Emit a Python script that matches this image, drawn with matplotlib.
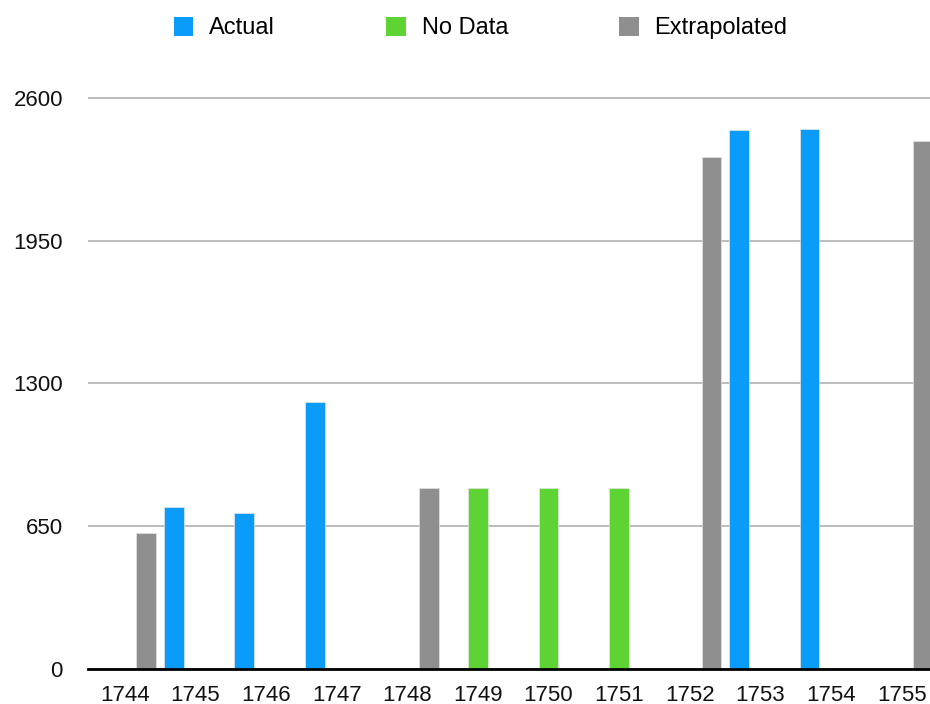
"""
Yearly totals 1744-1755: actual, missing and extrapolated values
"""
import numpy as np
import matplotlib.pyplot as plt
from matplotlib.patches import Patch

plt.rcParams['font.family'] = ['Liberation Sans', 'DejaVu Sans']

years = ['1744', '1745', '1746', '1747', '1748', '1749',
         '1750', '1751', '1752', '1753', '1754', '1755']
nan = np.nan
actual = [nan, 740, 710, 1215, nan, nan, nan, nan, nan, 2455, 2458, nan]
no_data = [nan, nan, nan, nan, nan, 825, 825, 825, nan, nan, nan, nan]
extrapolated = [620, nan, nan, nan, 825, nan, nan, nan, 2330, nan, nan, 2402]
y_ticks = [0, 650, 1300, 1950, 2600]

series = [('Actual', actual, '#0A9CF8'),
          ('No Data', no_data, '#5DD334'),
          ('Extrapolated', extrapolated, '#8F8F8F')]

fig = plt.figure(figsize=(9.3, 7.04), dpi=100)
ax = fig.add_axes([0.0946, 0.0493, 0.9054, 0.8432])

x = np.arange(len(years))
width = 0.28
offset = 0.306
handles = []
for i, (name, vals, col) in enumerate(series):
    ax.bar(x + (i - 1) * offset, vals, width, color=col,
           edgecolor='#e4e4e4', linewidth=0.5, zorder=2)
    handles.append(Patch(facecolor=col, label=name))

ax.set_xlim(-0.52, 11.4)
ax.set_ylim(0, 2700)
ax.set_yticks(y_ticks)
ax.set_yticklabels([str(v) for v in y_ticks])
ax.set_xticks(x)
ax.set_xticklabels(years)
ax.tick_params(axis='both', length=0, labelsize=16, colors='#111111')
ax.tick_params(axis='x', pad=11)
ax.tick_params(axis='y', pad=18)

ax.yaxis.grid(True, color='#aaaaaa', linewidth=1.1, zorder=0)
ax.set_axisbelow(True)
for side in ['left', 'right', 'top']:
    ax.spines[side].set_visible(False)
ax.spines['bottom'].set_linewidth(2)
ax.spines['bottom'].set_color('black')
ax.spines['bottom'].set_zorder(3)

fig.legend(handles=handles, loc='center left',
           bbox_to_anchor=(174 / 930, 1 - 28 / 704), ncol=3, frameon=False,
           fontsize=17, handlelength=0.82, handleheight=0.85,
           handletextpad=0.68, columnspacing=4.7, borderpad=0,
           borderaxespad=0)

fig.savefig('out.png', dpi=100)
